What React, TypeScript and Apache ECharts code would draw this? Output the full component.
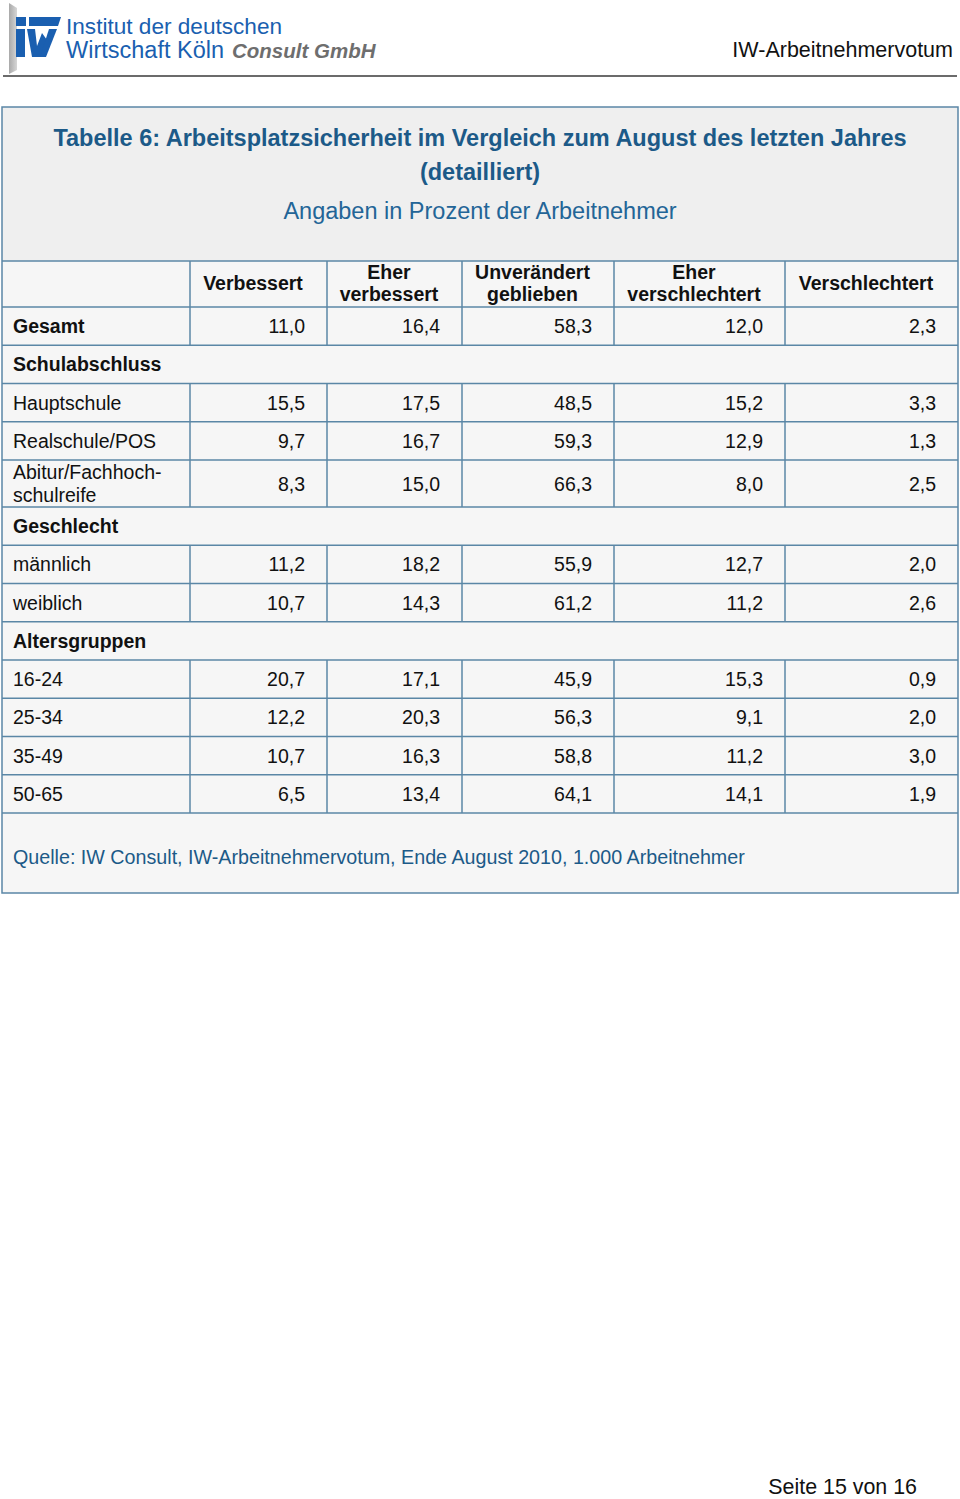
import React, { useEffect, useRef } from "react";
import * as echarts from "echarts";

// ---------- data ----------
const columns: string[][] = [
  ["Verbessert"],
  ["Eher", "verbessert"],
  ["Unverändert", "geblieben"],
  ["Eher", "verschlechtert"],
  ["Verschlechtert"],
];

const gesamtLabel = "Gesamt";
const gesamtValues = [11.0, 16.4, 58.3, 12.0, 2.3];

const schulTitle = "Schulabschluss";
const schulLabels: string[][] = [["Hauptschule"], ["Realschule/POS"], ["Abitur/Fachhoch-", "schulreife"]];
const schulValues = [
  [15.5, 17.5, 48.5, 15.2, 3.3],
  [9.7, 16.7, 59.3, 12.9, 1.3],
  [8.3, 15.0, 66.3, 8.0, 2.5],
];

const geschlechtTitle = "Geschlecht";
const geschlechtLabels: string[][] = [["männlich"], ["weiblich"]];
const geschlechtValues = [
  [11.2, 18.2, 55.9, 12.7, 2.0],
  [10.7, 14.3, 61.2, 11.2, 2.6],
];

const altersTitle = "Altersgruppen";
const altersLabels: string[][] = [["16-24"], ["25-34"], ["35-49"], ["50-65"]];
const altersValues = [
  [20.7, 17.1, 45.9, 15.3, 0.9],
  [12.2, 20.3, 56.3, 9.1, 2.0],
  [10.7, 16.3, 58.8, 11.2, 3.0],
  [6.5, 13.4, 64.1, 14.1, 1.9],
];

const titleLines = ["Tabelle 6: Arbeitsplatzsicherheit im Vergleich zum August des letzten Jahres", "(detailliert)"];
const subtitle = "Angaben in Prozent der Arbeitnehmer";
const source = "Quelle: IW Consult, IW-Arbeitnehmervotum, Ende August 2010, 1.000 Arbeitnehmer";
const headerRight = "IW-Arbeitnehmervotum";
const pageLabel = "Seite 15 von 16";

// ---------- layout ----------
const FAM = '"Liberation Sans", Arial, sans-serif';
const BORDER = "#5b87a6";
const BLUE = "#1c5a88";
const colX = [2, 190, 327, 462, 614, 785, 958];
const TABLE_TOP = 107;
const HEAD_TOP = 261;
const HEAD_BOTTOM = 307;
const ROW_H = 38.25;
const TALL_H = 47;
const FOOT_H = 80;

type Row = { kind: "data" | "section"; label: string[]; values?: number[]; bold?: boolean };

const fmt = (v: number) => v.toFixed(1).replace(".", ",");

function buildRows(): Row[] {
  const rows: Row[] = [];
  rows.push({ kind: "data", label: [gesamtLabel], values: gesamtValues, bold: true });
  const groups: [string, string[][], number[][]][] = [
    [schulTitle, schulLabels, schulValues],
    [geschlechtTitle, geschlechtLabels, geschlechtValues],
    [altersTitle, altersLabels, altersValues],
  ];
  groups.forEach(([t, labels, vals]) => {
    rows.push({ kind: "section", label: [t] });
    labels.forEach((l, i) => rows.push({ kind: "data", label: l, values: vals[i] }));
  });
  return rows;
}

function txt(text: string, x: number, y: number, size: number, opts: any = {}) {
  const weight = opts.weight || "normal";
  const style = opts.italic ? "italic " : "";
  return {
    type: "text",
    x,
    y,
    silent: true,
    style: {
      text,
      fill: opts.color || "#111111",
      font: `${style}${weight} ${size}px ${FAM}`,
      textAlign: opts.align || "left",
      textVerticalAlign: "middle",
    },
  };
}

function line(x1: number, y1: number, x2: number, y2: number, color = BORDER, w = 1.5) {
  return { type: "line", silent: true, shape: { x1, y1, x2, y2 }, style: { stroke: color, lineWidth: w } };
}

function buildElements() {
  const els: any[] = [];
  const W = colX[colX.length - 1] - colX[0];
  const rows = buildRows();
  const heights = rows.map((r) => (r.label.length > 1 ? TALL_H : ROW_H));
  const bodyBottom = heights.reduce((a, b) => a + b, HEAD_BOTTOM);
  const footBottom = bodyBottom + FOOT_H;

  // ---- page header ----
  els.push({
    type: "polygon",
    silent: true,
    shape: { points: [[9, 3], [17, 8], [17, 70], [9, 74]] },
    style: {
      fill: new echarts.graphic.LinearGradient(0, 0, 1, 0, [
        { offset: 0, color: "#a9a9a9" },
        { offset: 1, color: "#d6d6d6" },
      ]),
    },
  });
  const LOGO = "#1a5fb0";
  const logoPolys = [
    [[16, 17], [26, 17], [26, 26], [16, 26]],
    [[29, 17], [61, 17], [58, 26], [29, 26]],
    [[16, 29], [25, 29], [25, 57], [16, 57]],
    [[27, 29], [35, 29], [37, 46], [42, 33], [47, 40], [41, 57], [32, 57]],
    [[49, 29], [57, 29], [46, 57], [40, 57]],
  ];
  logoPolys.forEach((p) => els.push({ type: "polygon", silent: true, shape: { points: p }, style: { fill: LOGO } }));
  els.push(txt("Institut der deutschen", 66, 26, 22.6, { color: LOGO }));
  els.push(txt("Wirtschaft Köln", 66, 50, 23.5, { color: LOGO }));
  els.push(txt("Consult GmbH", 232, 50, 20.5, { color: "#6e6e6e", weight: "bold", italic: true }));
  els.push(txt(headerRight, 953, 50, 21.5, { align: "right", color: "#111" }));
  els.push(line(3, 76, 957, 76, "#3a3a3a", 1.5));

  // ---- backgrounds ----
  els.push({ type: "rect", silent: true, shape: { x: colX[0], y: TABLE_TOP, width: W, height: HEAD_TOP - TABLE_TOP }, style: { fill: "#efefef" } });
  els.push({ type: "rect", silent: true, shape: { x: colX[0], y: HEAD_TOP, width: W, height: footBottom - HEAD_TOP }, style: { fill: "#f6f6f6" } });

  // ---- titles ----
  els.push(txt(titleLines[0], 480, 138, 23.5, { align: "center", color: BLUE, weight: "bold" }));
  els.push(txt(titleLines[1], 480, 172, 23.5, { align: "center", color: BLUE, weight: "bold" }));
  els.push(txt(subtitle, 480, 211, 23.5, { align: "center", color: "#236597" }));

  // ---- header row ----
  els.push(line(colX[0], HEAD_TOP, colX[6], HEAD_TOP));
  colX.slice(1, 6).forEach((x) => els.push(line(x, HEAD_TOP, x, HEAD_BOTTOM)));
  columns.forEach((c, i) => {
    const cx = (colX[i + 1] + colX[i + 2]) / 2 - 5.5;
    if (c.length === 1) els.push(txt(c[0], cx, 283, 19.5, { align: "center", weight: "bold" }));
    else {
      els.push(txt(c[0], cx, 272, 19.5, { align: "center", weight: "bold" }));
      els.push(txt(c[1], cx, 294, 19.5, { align: "center", weight: "bold" }));
    }
  });

  // ---- body rows ----
  let y = HEAD_BOTTOM;
  rows.forEach((r, ri) => {
    const h = heights[ri];
    const mid = y + h / 2;
    els.push(line(colX[0], y, colX[6], y));
    const bold = r.kind === "section" || r.bold;
    if (r.label.length === 1) {
      els.push(txt(r.label[0], 13, mid, 19.5, { weight: bold ? "bold" : "normal" }));
    } else {
      els.push(txt(r.label[0], 13, mid - 11.5, 19.5));
      els.push(txt(r.label[1], 13, mid + 11.5, 19.5));
    }
    if (r.kind === "data" && r.values) {
      colX.slice(1, 6).forEach((x) => els.push(line(x, y, x, y + h)));
      r.values.forEach((v, i) => els.push(txt(fmt(v), colX[i + 2] - 22, mid, 19.5, { align: "right" })));
    }
    y += h;
  });
  els.push(line(colX[0], bodyBottom, colX[6], bodyBottom));

  // ---- footer ----
  els.push(txt(source, 13, bodyBottom + 44, 19.7, { color: BLUE }));

  // ---- outer border ----
  els.push({
    type: "rect",
    silent: true,
    shape: { x: colX[0], y: TABLE_TOP, width: W, height: footBottom - TABLE_TOP },
    style: { fill: "none", stroke: BORDER, lineWidth: 1.5 },
  });

  // ---- page number ----
  els.push(txt(pageLabel, 917, 1487, 21.4, { align: "right" }));
  return els;
}

export default function App() {
  const ref = useRef<HTMLDivElement>(null);
  useEffect(() => {
    document.body.style.margin = "0";
    document.body.style.overflow = "hidden";
    const chart = echarts.init(ref.current as HTMLDivElement, null, { renderer: "svg", width: 960, height: 1499 });
    chart.setOption({ animation: false, backgroundColor: "#ffffff", graphic: { elements: buildElements() } });
    return () => chart.dispose();
  }, []);
  return <div ref={ref} style={{ width: 960, height: 1499 }} />;
}
